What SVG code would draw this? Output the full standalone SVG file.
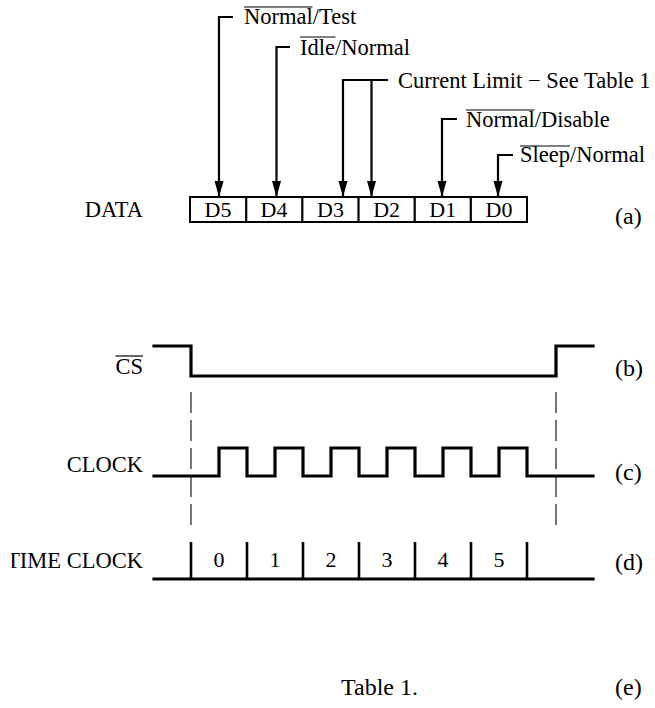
<svg xmlns="http://www.w3.org/2000/svg" width="655" height="708" viewBox="0 0 655 708">
<style>
text{font-family:"Liberation Serif","Times New Roman",serif;font-size:22.5px;fill:#000}
.cell{font-size:22px}
.lbl{font-size:24px}
.end{text-anchor:end}
.mid{text-anchor:middle}
.wire{fill:none;stroke:#000;stroke-width:2.2}
.sig{fill:none;stroke:#000;stroke-width:3.2;stroke-linejoin:miter;stroke-linecap:square}
.tick{stroke:#000;stroke-width:2.6}
.dash{stroke:#555;stroke-width:1.6;stroke-dasharray:21 7}
.box{fill:#fff;stroke:#000;stroke-width:2}
.ovl{stroke:#000;stroke-width:1.2}
</style>
<defs>
<marker id="arr" markerUnits="userSpaceOnUse" viewBox="0 -5 16 10" refX="16" refY="0" markerWidth="16" markerHeight="10" orient="auto">
<path d="M0,-4.5 L16,0 L0,4.5 Z" fill="#000"/>
</marker>
<clipPath id="tclip"><rect x="11.5" y="530" width="140" height="50"/></clipPath>
</defs>

<g id="data-register">
<rect class="box" x="190" y="197" width="337" height="25"/>
<path class="wire" d="M246.2,197 V222 M302.3,197 V222 M358.5,197 V222 M414.7,197 V222 M470.8,197 V222"/>
<text class="mid cell" x="218" y="217">D5</text>
<text class="mid cell" x="274" y="217">D4</text>
<text class="mid cell" x="330.5" y="217">D3</text>
<text class="mid cell" x="386.6" y="217">D2</text>
<text class="mid cell" x="442.7" y="217">D1</text>
<text class="mid cell" x="499" y="217">D0</text>
</g>
<g id="label-data"><text class="end" x="143" y="217">DATA</text></g>

<g id="bit-labels">
<g id="lbl-d5"><text x="244" y="24">Normal/Test</text><line class="ovl" x1="244" y1="7" x2="312.5" y2="7"/></g>
<g id="lbl-d4"><text x="300" y="55">Idle/Normal</text><line class="ovl" x1="300" y1="37" x2="335.5" y2="37"/></g>
<g id="lbl-d3d2"><text x="398" y="88">Current Limit − See Table 1</text></g>
<g id="lbl-d1"><text x="466" y="127">Normal/Disable</text><line class="ovl" x1="466" y1="110" x2="534.5" y2="110"/></g>
<g id="lbl-d0"><text x="520" y="162">Sleep/Normal</text><line class="ovl" x1="520" y1="146" x2="570" y2="146"/></g>
</g>

<g id="connectors">
<path class="wire" d="M233,17 H219 V197" marker-end="url(#arr)"/>
<path class="wire" d="M290,47 H276.5 V197" marker-end="url(#arr)"/>
<path class="wire" d="M388,80 H343 V197" marker-end="url(#arr)"/>
<path class="wire" d="M371.5,80 V197" marker-end="url(#arr)"/>
<path class="wire" d="M457,119 H442 V197" marker-end="url(#arr)"/>
<path class="wire" d="M513,155 H498 V197" marker-end="url(#arr)"/>
<line class="dash" x1="191" y1="392" x2="191" y2="527"/>
<line class="dash" x1="556" y1="392" x2="556" y2="527"/>
</g>

<g id="cs">
<text class="end" x="143" y="374">CS</text><line class="ovl" x1="115.5" y1="356" x2="143" y2="356"/>
<path class="sig" d="M154,346 H191 V376 H556 V346 H593"/>
</g>

<g id="clock">
<text class="end" x="143" y="472">CLOCK</text>
<path class="sig" d="M154,476 H219 V448 H247 V476 H275 V448 H303 V476 H331 V448 H359 V476 H387 V448 H415 V476 H443 V448 H471 V476 H499 V448 H527 V476 H593"/>
</g>

<g id="time-clock">
<text class="end" x="143" y="568" clip-path="url(#tclip)">TIME CLOCK</text>
<path class="sig" d="M154,579 H593"/>
<path class="tick" d="M191,542 V579 M247,542 V579 M303,542 V579 M359,542 V579 M415,542 V579 M471,542 V579 M527,542 V579"/>
<text class="mid cell" x="219" y="567">0</text>
<text class="mid cell" x="275" y="567">1</text>
<text class="mid cell" x="331" y="567">2</text>
<text class="mid cell" x="387" y="567">3</text>
<text class="mid cell" x="443" y="567">4</text>
<text class="mid cell" x="499" y="567">5</text>
</g>

<g id="caption"><text class="lbl end" x="418" y="695">Table 1.</text></g>

<g id="part-labels">
<text class="lbl" x="615" y="224">(a)</text>
<text class="lbl" x="615" y="376">(b)</text>
<text class="lbl" x="615" y="480">(c)</text>
<text class="lbl" x="615" y="570">(d)</text>
<text class="lbl" x="615" y="695">(e)</text>
</g>
</svg>
